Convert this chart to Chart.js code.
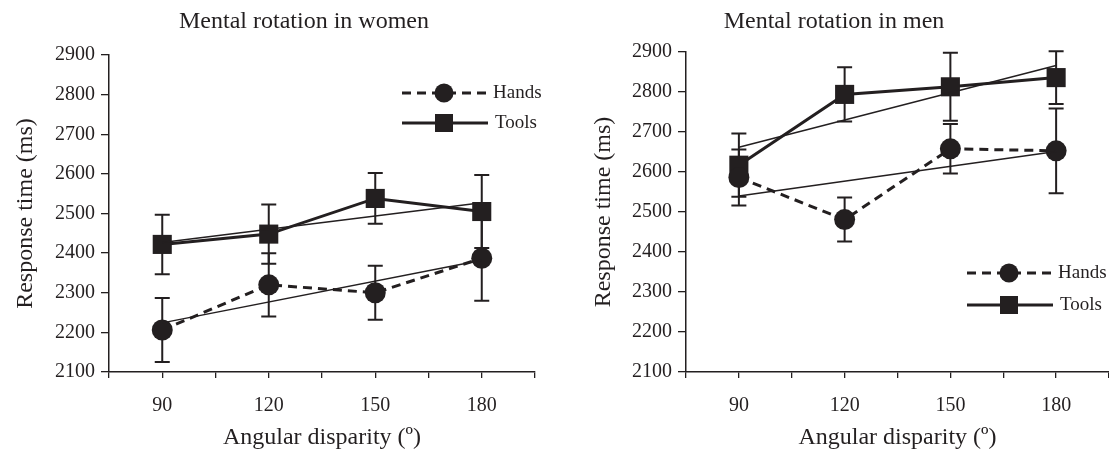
<!DOCTYPE html>
<html>
<head>
<meta charset="utf-8">
<script src="https://cdn.jsdelivr.net/npm/chart.js@4.4.0/dist/chart.umd.min.js"></script>
<style>
  html, body { margin: 0; padding: 0; background: #fff; }
  #wrap { position: relative; width: 1109px; height: 452px; overflow: hidden; }
  canvas { position: absolute; top: 0; }
  #women { left: 0; }
  #men { left: 555px; }
</style>
</head>
<body>
<div id="wrap">
  <canvas id="women" width="555" height="452"></canvas>
  <!-- a bit wider than the window: the axis runs to the edge and the legend text is cut off -->
  <canvas id="men" width="570" height="452"></canvas>
</div>
<script>
// angular disparity (deg)
const angles = [90, 120, 150, 180];
const fitX = [90, 180];

// women, response time (ms) and error bar half-lengths
const womenHands = [2206, 2320, 2300, 2387];
const womenHandsErr = [81, 80, 68, 107];
const womenTools = [2422, 2448, 2538, 2505];
const womenToolsErr = [75, 75, 64, 92];
const womenHandsFit = [2224, 2382];
const womenToolsFit = [2427, 2527];

// men
const menHands = [2586, 2481, 2658, 2653];
const menHandsErr = [70, 55, 62, 106];
const menTools = [2617, 2794, 2813, 2836];
const menToolsErr = [79, 68, 85, 66];
const menHandsFit = [2540, 2651];
const menToolsFit = [2662, 2866];

const ink = '#231f20';
const serif = 'Liberation Serif, Times New Roman, serif';

const points = (xs, ys) => xs.map((x, i) => ({ x: x, y: ys[i] }));

// error bars, titles and the little legends
const decor = {
    id: 'decor',
    beforeDatasetsDraw(chart, args, o) {
        const ctx = chart.ctx
        const xs = chart.scales.x, ys = chart.scales.y
        ctx.save()
        ctx.strokeStyle = ink
        ctx.lineWidth = 2
        chart.data.datasets.forEach(ds => {
            if (!ds.errors) return
            ds.data.forEach((p, i) => {
                const x = xs.getPixelForValue(p.x)
                const top = ys.getPixelForValue(p.y + ds.errors[i])
                const bot = ys.getPixelForValue(p.y - ds.errors[i])
                ctx.beginPath()
                ctx.moveTo(x, top); ctx.lineTo(x, bot)
                ctx.moveTo(x - 7.5, top); ctx.lineTo(x + 7.5, top)
                ctx.moveTo(x - 7.5, bot); ctx.lineTo(x + 7.5, bot)
                ctx.stroke()
            })
        })
        ctx.restore()
    },
    afterDraw(chart, args, o) {
        const ctx = chart.ctx
        ctx.save()
        ctx.fillStyle = ink
        ctx.strokeStyle = ink
        ctx.font = '24px ' + serif
        ctx.textAlign = 'center'
        ctx.textBaseline = 'middle'
        ctx.fillText(o.title, o.titleX, 22)

        // legend
        const lx = o.legendX
        ctx.lineWidth = 3
        ctx.setLineDash([9, 6])
        ctx.beginPath(); ctx.moveTo(lx, o.legendY[0]); ctx.lineTo(lx + 86, o.legendY[0]); ctx.stroke()
        ctx.setLineDash([])
        ctx.beginPath(); ctx.moveTo(lx, o.legendY[1]); ctx.lineTo(lx + 86, o.legendY[1]); ctx.stroke()
        ctx.beginPath(); ctx.arc(lx + 42, o.legendY[0], 9.5, 0, Math.PI * 2); ctx.fill()
        ctx.fillRect(lx + 42 - 9, o.legendY[1] - 9, 18, 18)
        ctx.font = '19px ' + serif
        ctx.textAlign = 'left'
        ctx.fillText('Hands', lx + 91, o.legendY[0])
        ctx.fillText('Tools', lx + 93, o.legendY[1])
        ctx.restore()
    }
};

function makeChart(el, hands, handsErr, tools, toolsErr, handsFit, toolsFit, o) {
    const config = {
        type: 'line',
        data: {
            datasets: [
                { data: points(fitX, handsFit), borderColor: ink, borderWidth: 1.5, pointRadius: 0 },
                { data: points(fitX, toolsFit), borderColor: ink, borderWidth: 1.5, pointRadius: 0 },
                {
                    label: 'Hands', data: points(angles, hands), errors: handsErr,
                    borderColor: ink, borderWidth: 3, borderDash: [9, 6],
                    pointStyle: 'circle', pointRadius: 10.5, pointBackgroundColor: ink, pointBorderWidth: 0
                },
                {
                    label: 'Tools', data: points(angles, tools), errors: toolsErr,
                    borderColor: ink, borderWidth: 3,
                    pointStyle: 'rect', pointRadius: 13.5, pointBackgroundColor: ink, pointBorderWidth: 0
                }
            ]
        },
        options: {
            responsive: false,
            animation: false,
            layout: { padding: o.padding },
            plugins: {
                legend: { display: false },
                tooltip: { enabled: false },
                decor: o
            },
            scales: {
                x: {
                    type: 'linear', min: 75, max: 195,
                    afterFit: s => { s.height = 80 },
                    border: { display: true, color: ink, width: 1.5 },
                    grid: { drawOnChartArea: false, drawTicks: true, tickLength: 6, color: ink, lineWidth: 1.3 },
                    ticks: {
                        stepSize: 15, autoSkip: false, maxRotation: 0, padding: 16,
                        color: ink, font: { family: serif, size: 20 },
                        callback: v => angles.includes(v) ? String(v) : ''
                    },
                    title: {
                        display: true, text: 'Angular disparity (º)', color: ink,
                        font: { family: serif, size: 24 }, padding: { top: 0, bottom: 0 }
                    }
                },
                y: {
                    min: 2100, max: 2900,
                    afterFit: s => { s.width = o.yWidth },
                    border: { display: true, color: ink, width: 1.5 },
                    grid: { drawOnChartArea: false, drawTicks: true, tickLength: 8, color: ink, lineWidth: 1.3 },
                    ticks: {
                        stepSize: 100, padding: 6, color: ink, font: { family: serif, size: 20 },
                        callback: v => String(v)
                    },
                    title: {
                        display: true, text: 'Response time (ms)', color: ink,
                        font: { family: serif, size: 24 }, padding: { top: 11, bottom: 0 }
                    }
                }
            }
        },
        plugins: [decor]
    };
    return new Chart(el, config)
}

makeChart(document.querySelector('#women'), womenHands, womenHandsErr, womenTools, womenToolsErr,
    womenHandsFit, womenToolsFit, {
        title: 'Mental rotation in women', titleX: 304,
        legendX: 402, legendY: [93, 123],
        yWidth: 109, padding: { left: 0, right: 20, top: 55, bottom: 0 }
    })

makeChart(document.querySelector('#men'), menHands, menHandsErr, menTools, menToolsErr,
    menHandsFit, menToolsFit, {
        title: 'Mental rotation in men', titleX: 279,
        legendX: 412, legendY: [273, 305],
        yWidth: 108, padding: { left: 23, right: 0, top: 52, bottom: 0 }
    })
</script>
</body>
</html>
